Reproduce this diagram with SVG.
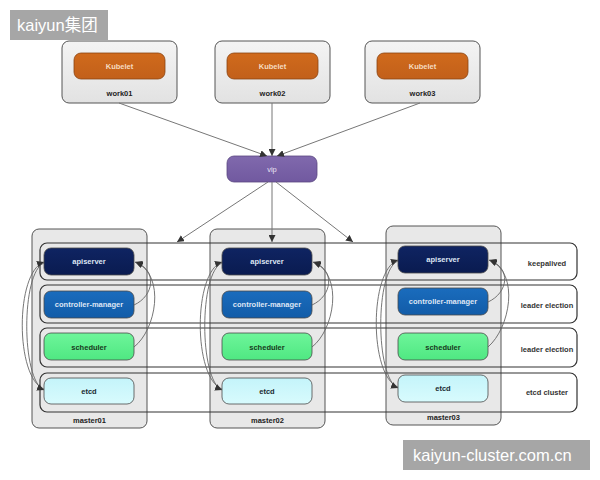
<svg xmlns="http://www.w3.org/2000/svg" width="600" height="480" viewBox="0 0 600 480">
<style>
.t{font-family:"Liberation Sans",Arial,sans-serif;font-weight:bold;font-size:7.5px;text-anchor:middle}
.dark{fill:#222}
.light{fill:#dfe6f5}
.box{stroke:#555;stroke-width:1}
.band{fill:none;stroke:#333;stroke-width:1.2}
.comp{stroke:#4a4a4a;stroke-width:0.8}
.conn{fill:none;stroke:#777;stroke-width:1;marker-end:url(#ah)}
.curve{fill:none;stroke:#666;stroke-width:0.9;marker-end:url(#ah)}
.wm{font-family:"Liberation Sans",Arial,"Noto Sans CJK SC",sans-serif;font-size:16.5px;fill:#fff}
</style>
<defs>
<marker id="ah" viewBox="0 0 8 8" markerWidth="7" markerHeight="7" refX="8" refY="4" orient="auto" markerUnits="userSpaceOnUse">
<path d="M0,0 L8,4 L0,8 z" fill="#333"/>
</marker>
<linearGradient id="gBox" x1="0" y1="0" x2="0" y2="1"><stop offset="0" stop-color="#f4f4f4"/><stop offset="1" stop-color="#e2e2e2"/></linearGradient>
<linearGradient id="gKub" x1="0" y1="0" x2="0" y2="1"><stop offset="0" stop-color="#d06a1c"/><stop offset="1" stop-color="#c2601a"/></linearGradient>
<linearGradient id="gVip" x1="0" y1="0" x2="0" y2="1"><stop offset="0" stop-color="#8069ad"/><stop offset="1" stop-color="#7159a0"/></linearGradient>
<linearGradient id="gApi" x1="0" y1="0" x2="0" y2="1"><stop offset="0" stop-color="#0f2462"/><stop offset="1" stop-color="#0a1b50"/></linearGradient>
<linearGradient id="gCm" x1="0" y1="0" x2="0" y2="1"><stop offset="0" stop-color="#1a6cbd"/><stop offset="1" stop-color="#125ca8"/></linearGradient>
<linearGradient id="gSch" x1="0" y1="0" x2="0" y2="1"><stop offset="0" stop-color="#6ef59a"/><stop offset="1" stop-color="#4fe882"/></linearGradient>
<linearGradient id="gEtcd" x1="0" y1="0" x2="0" y2="1"><stop offset="0" stop-color="#c4f4fa"/><stop offset="1" stop-color="#d8fbfd"/></linearGradient>
</defs>
<rect width="600" height="480" fill="#fff"/>

<!-- workers -->
<g id="work01">
<rect class="box" x="62" y="41" width="115" height="62" rx="7" fill="url(#gBox)"/>
<rect x="74" y="53" width="91" height="26" rx="7" fill="url(#gKub)" stroke="#8a4412" stroke-width="0.8"/>
<text class="t" x="119.5" y="68.5" fill="#f6dcc0">Kubelet</text>
<text class="t dark" x="119.5" y="95.5">work01</text>
</g>
<g id="work02">
<rect class="box" x="215" y="41" width="115" height="62" rx="7" fill="url(#gBox)"/>
<rect x="227" y="53" width="91" height="26" rx="7" fill="url(#gKub)" stroke="#8a4412" stroke-width="0.8"/>
<text class="t" x="272.5" y="68.5" fill="#f6dcc0">Kubelet</text>
<text class="t dark" x="272.5" y="95.5">work02</text>
</g>
<g id="work03">
<rect class="box" x="365" y="41" width="115" height="62" rx="7" fill="url(#gBox)"/>
<rect x="377" y="53" width="91" height="26" rx="7" fill="url(#gKub)" stroke="#8a4412" stroke-width="0.8"/>
<text class="t" x="422.5" y="68.5" fill="#f6dcc0">Kubelet</text>
<text class="t dark" x="422.5" y="95.5">work03</text>
</g>

<g id="vip">
<rect x="227" y="156" width="90" height="26" rx="7" fill="url(#gVip)" stroke="#5a4680" stroke-width="0.8"/>
<text class="t" x="272" y="171.5" fill="#e8e0f4" style="font-weight:normal">vip</text>
</g>

<!-- masters -->
<g id="master01">
<rect class="box" x="32" y="229" width="115" height="199" rx="7" fill="#e8e8e8"/>
<text class="t dark" x="89.5" y="422.5">master01</text>
</g>
<g id="master02">
<rect class="box" x="210" y="229" width="115" height="199" rx="7" fill="#e8e8e8"/>
<text class="t dark" x="267.5" y="422.5">master02</text>
</g>
<g id="master03">
<rect class="box" x="386" y="226" width="115" height="199" rx="7" fill="#e8e8e8"/>
<text class="t dark" x="443.5" y="419.5">master03</text>
</g>

<!-- bands -->
<g id="band-keepalived">
<rect class="band" x="40" y="243" width="537" height="37" rx="7"/>
<text class="t" x="547" y="266" fill="#333">keepalived</text>
</g>
<g id="band-leader1">
<rect class="band" x="40" y="285" width="537" height="38" rx="7"/>
<text class="t" x="547" y="308" fill="#333">leader election</text>
</g>
<g id="band-leader2">
<rect class="band" x="40" y="328" width="537" height="39" rx="7"/>
<text class="t" x="547" y="352" fill="#333">leader election</text>
</g>
<g id="band-etcd">
<rect class="band" x="40" y="373" width="537" height="39" rx="7"/>
<text class="t" x="547" y="395" fill="#333">etcd cluster</text>
</g>

<!-- components master01 -->
<g id="apiserver01"><rect class="comp" x="44" y="248" width="90" height="27" rx="7" fill="url(#gApi)"/><text class="t light" x="89" y="264">apiserver</text></g>
<g id="cm01"><rect class="comp" x="44" y="291" width="90" height="27" rx="7" fill="url(#gCm)"/><text class="t light" x="89" y="307">controller-manager</text></g>
<g id="sch01"><rect class="comp" x="44" y="333" width="90" height="27" rx="7" fill="url(#gSch)"/><text class="t" x="89" y="349.5" fill="#173a20">scheduler</text></g>
<g id="etcd01"><rect class="comp" x="44" y="378" width="90" height="26" rx="7" fill="url(#gEtcd)" stroke="#6a9aa0"/><text class="t" x="89" y="393.5" fill="#1a2a30">etcd</text></g>

<!-- components master02 -->
<g id="apiserver02"><rect class="comp" x="222" y="248" width="90" height="27" rx="7" fill="url(#gApi)"/><text class="t light" x="267" y="264">apiserver</text></g>
<g id="cm02"><rect class="comp" x="222" y="291" width="90" height="27" rx="7" fill="url(#gCm)"/><text class="t light" x="267" y="307">controller-manager</text></g>
<g id="sch02"><rect class="comp" x="222" y="333" width="90" height="27" rx="7" fill="url(#gSch)"/><text class="t" x="267" y="349.5" fill="#173a20">scheduler</text></g>
<g id="etcd02"><rect class="comp" x="222" y="378" width="90" height="26" rx="7" fill="url(#gEtcd)" stroke="#6a9aa0"/><text class="t" x="267" y="393.5" fill="#1a2a30">etcd</text></g>

<!-- components master03 -->
<g id="apiserver03"><rect class="comp" x="398" y="246" width="90" height="27" rx="7" fill="url(#gApi)"/><text class="t light" x="443" y="262">apiserver</text></g>
<g id="cm03"><rect class="comp" x="398" y="288" width="90" height="27" rx="7" fill="url(#gCm)"/><text class="t light" x="443" y="304">controller-manager</text></g>
<g id="sch03"><rect class="comp" x="398" y="333" width="90" height="27" rx="7" fill="url(#gSch)"/><text class="t" x="443" y="349.5" fill="#173a20">scheduler</text></g>
<g id="etcd03"><rect class="comp" x="398" y="375" width="90" height="27" rx="7" fill="url(#gEtcd)" stroke="#6a9aa0"/><text class="t" x="443" y="391" fill="#1a2a30">etcd</text></g>

<!-- connectors -->
<g id="connectors">
<path class="conn" d="M119,103 L267,156"/>
<path class="conn" d="M272,103 L272,156"/>
<path class="conn" d="M420,103 L277,156"/>
<path class="conn" d="M268,182 L177,242"/>
<path class="conn" d="M272,182 L272,242"/>
<path class="conn" d="M276,182 L353,242"/>

<path class="curve" d="M44,389 C15,378 15,272 44,262"/>
<path class="curve" d="M44,263 C21,272 21,380 44,390"/>
<path class="curve" d="M134,305 C154,296 158,270 135,262"/>
<path class="curve" d="M134,347 C156,330 166,276 136,262"/>

<path class="curve" d="M222,389 C193,378 193,272 222,262"/>
<path class="curve" d="M222,263 C199,272 199,380 222,390"/>
<path class="curve" d="M312,305 C332,296 336,270 313,262"/>
<path class="curve" d="M312,347 C334,330 344,276 314,262"/>

<path class="curve" d="M398,387 C369,376 369,270 398,260"/>
<path class="curve" d="M398,261 C375,270 375,378 398,388"/>
<path class="curve" d="M488,302 C508,293 512,268 489,260"/>
<path class="curve" d="M488,347 C510,328 520,274 490,260"/>
</g>

<!-- watermarks -->
<g id="watermark-top">
<rect x="10" y="10" width="98" height="30" fill="#a6a6a6"/>
<text class="wm" x="17" y="31">kaiyun集团</text>
</g>
<g id="watermark-bottom">
<rect x="403" y="440" width="187" height="30" fill="#a6a6a6"/>
<text class="wm" x="413" y="461">kaiyun-cluster.com.cn</text>
</g>
</svg>
